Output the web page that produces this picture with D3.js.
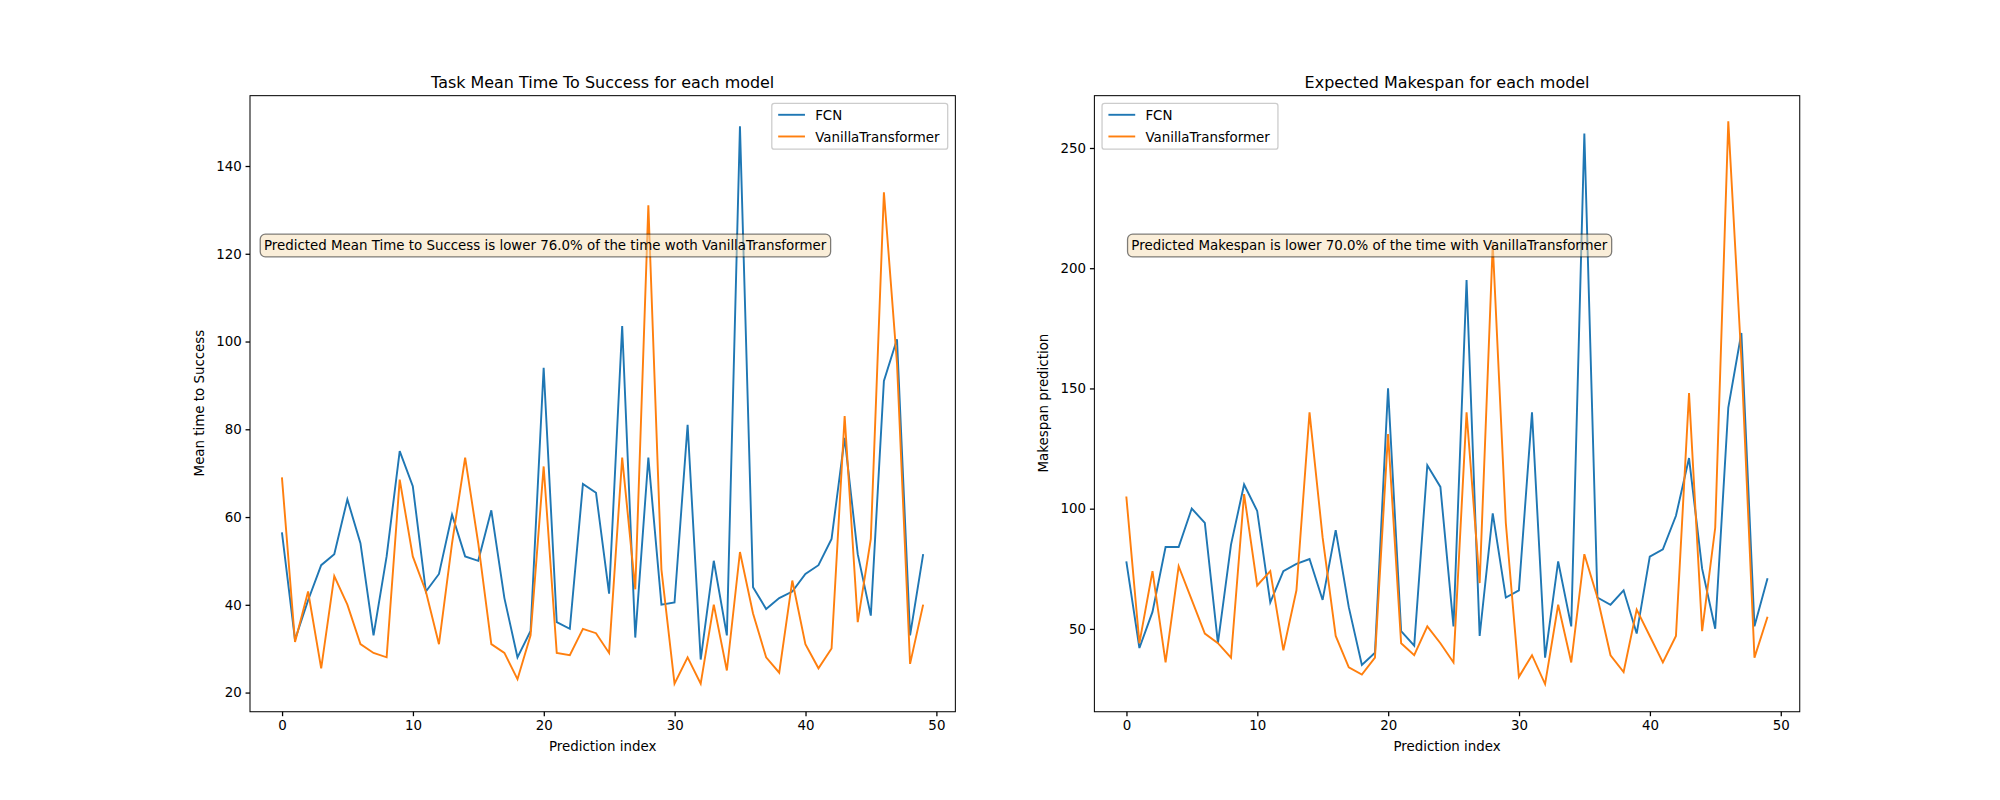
<!DOCTYPE html>
<html><head><meta charset="utf-8">
<script src="https://cdn.jsdelivr.net/npm/d3@7"></script>
<style>body{margin:0;background:#fff}text{font-family:"DejaVu Sans",sans-serif}</style>
</head><body>
<svg id="chart" width="2000" height="800" viewBox="0 0 1568 627.2" preserveAspectRatio="none"></svg>
<script>
const idx = d3.range(50);
const fcnTime = [56.5,32,41,49,51.5,64,54,33,51,75,67,43,47,60.5,51,50,61.5,41.5,28,34,94,36,34.5,67.5,65.5,42.5,103.5,32.5,73.5,40,40.5,81,27.5,50,33,149,44,39,41.5,43,47,49,55,78,51.5,37.5,91,100.5,33,51.5];
const vtTime = [69,31.5,43,25.5,46.5,40,31,29,28,68.5,51,43,31,54,73.5,54,31,29,23,33,71.5,29,28.5,34.5,33.5,29,73.5,43.5,131,48,22,28,22,40,25,52,38,28,24.5,45.5,31,25.5,30,83,36,55,134,95,26.5,40];
const fcnSpan = [78,42,57,84,84,100,94,44,85,110,99,61,74,77,79,62,91,59,35,40,150,49,43,118,109,51,195,47,98,63,66,140,38,78,51,256,63,60,66,48,80,83,97,121,75,50,142,173,51,71];
const vtSpan = [105,44,74,36,76,62,48,44,38,106,68,74,41,66,140,88,47,34,31,38,131,44,39,51,44,36,140,69,210,94,30,39,27,60,36,81,63,39,32,58,47,36,47,148,49,92,261,162,38,55];
const xTicks = [0,10,20,30,40,50];

const svg = d3.select("#chart");
const colors = ["#1f77b4","#ff7f0e"];
const names = ["FCN","VanillaTransformer"];
const fs = 10.5;

function panel(opt){
  const x = d3.scaleLinear().domain([-2.44,51.46]).range([opt.left, opt.left+553]);
  const y = d3.scaleLinear().domain(opt.ydom).range([558,75]);
  const g = svg.append("g");
  g.append("g").attr("transform","translate(0,558)")
    .call(d3.axisBottom(x).tickValues(xTicks).tickSize(3.5).tickPadding(3))
    .call(a=>a.select(".domain").remove()).selectAll("text").attr("font-size",fs).attr("fill","#000");
  g.append("g").attr("transform",`translate(${opt.left},0)`)
    .call(d3.axisLeft(y).tickValues(opt.yticks).tickSize(3.5).tickPadding(3))
    .call(a=>a.select(".domain").remove()).selectAll("text").attr("font-size",fs).attr("fill","#000");
  const line = d3.line().x((d,i)=>x(idx[i])).y(d=>y(d));
  opt.series.forEach((s,k)=>g.append("path").attr("d",line(s)).attr("fill","none")
    .attr("stroke",colors[k]).attr("stroke-width",1.5));
  g.append("rect").attr("x",opt.left).attr("y",75).attr("width",553).attr("height",483)
    .attr("fill","none").attr("stroke","#000").attr("stroke-width",0.8);
  g.append("text").attr("x",opt.left+276.5).attr("y",69).attr("text-anchor","middle")
    .attr("font-size",12.5).text(opt.title);
  g.append("text").attr("x",opt.left+276.5).attr("y",589).attr("text-anchor","middle")
    .attr("font-size",fs).text("Prediction index");
  g.append("text").attr("transform",`translate(${opt.left-36},316) rotate(-90)`)
    .attr("text-anchor","middle").attr("font-size",fs).text(opt.ylabel);
  const ann = g.append("g");
  const at = ann.append("text").attr("x",opt.annX).attr("y",196).attr("font-size",fs).text(opt.ann);
  const bb = at.node().getBBox();
  ann.insert("rect","text").attr("x",bb.x-3).attr("y",bb.y-3).attr("width",bb.width+6).attr("height",bb.height+6)
    .attr("rx",4).attr("fill","#f5deb3").attr("fill-opacity",0.5).attr("stroke","#000").attr("stroke-opacity",0.5);
  const lg = g.append("g").attr("transform",`translate(${opt.legX},81)`);
  const lt = names.map((n,k)=>lg.append("text").attr("x",34).attr("y",13+k*17).attr("font-size",fs).text(n));
  const w = d3.max(lt,t=>t.node().getBBox().width)+40;
  lg.insert("rect",":first-child").attr("width",w).attr("height",36).attr("rx",2)
    .attr("fill","#fff").attr("fill-opacity",0.8).attr("stroke","#ccc");
  names.forEach((n,k)=>lg.append("line").attr("x1",5).attr("x2",26).attr("y1",9+k*17).attr("y2",9+k*17)
    .attr("stroke",colors[k]).attr("stroke-width",1.5));
  if(opt.legRight) lg.attr("transform",`translate(${opt.left+553-6-w},81)`);
}

panel({left:196, ydom:[15.6,156], yticks:[20,40,60,80,100,120,140], series:[fcnTime,vtTime],
  title:"Task Mean Time To Success for each model", ylabel:"Mean time to Success",
  ann:"Predicted Mean Time to Success is lower 76.0% of the time woth VanillaTransformer", annX:207, legRight:true});
panel({left:858, ydom:[15.5,271.7], yticks:[50,100,150,200,250], series:[fcnSpan,vtSpan],
  title:"Expected Makespan for each model", ylabel:"Makespan prediction",
  ann:"Predicted Makespan is lower 70.0% of the time with VanillaTransformer", annX:887, legX:864});
</script>
</body></html>
